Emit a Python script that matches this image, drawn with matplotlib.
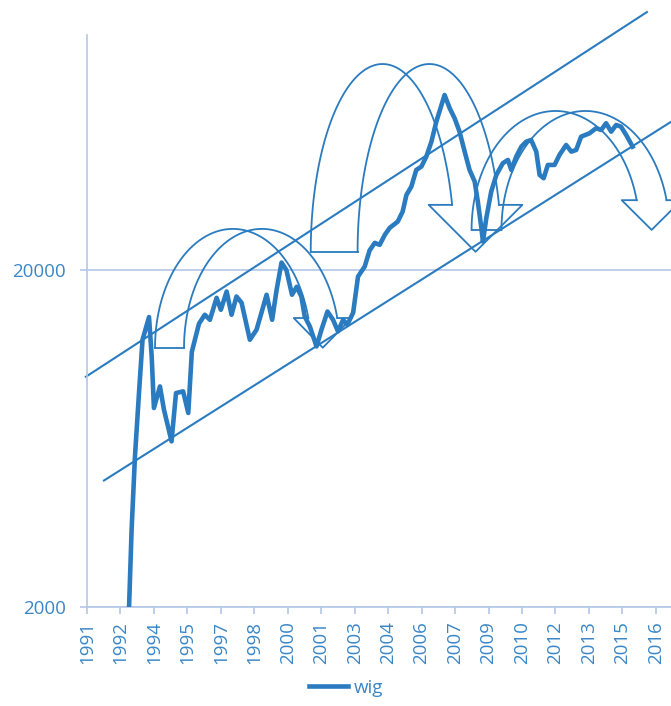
import numpy as np
import matplotlib
matplotlib.use("Agg")
import matplotlib.pyplot as plt
from matplotlib.lines import Line2D
from matplotlib.transforms import IdentityTransform

plt.rcParams['font.family'] = ['Open Sans', 'DejaVu Sans']

# wig index (decimal year, value)
years = [1992.88, 1993.00, 1993.15, 1993.34, 1993.49, 1993.78, 1993.90, 1994.00,
         1994.27, 1994.45, 1994.79, 1994.99, 1995.31, 1995.54, 1995.70, 1996.02,
         1996.28, 1996.51, 1996.81, 1997.00, 1997.26, 1997.48, 1997.70, 1997.93,
         1998.30, 1998.60, 1998.82, 1999.05, 1999.30, 1999.50, 1999.72, 1999.94,
         2000.19, 2000.40, 2000.61, 2000.76, 2000.99, 2001.29, 2001.51, 2001.78,
         2002.03, 2002.25, 2002.48, 2002.67, 2002.93, 2003.15, 2003.45, 2003.67,
         2003.90, 2004.12, 2004.35, 2004.57, 2004.93, 2005.15, 2005.32, 2005.54,
         2005.76, 2005.99, 2006.21, 2006.44, 2006.66, 2007.03, 2007.26, 2007.48,
         2007.70, 2007.93, 2008.15, 2008.38, 2008.52, 2008.68, 2008.75, 2008.90,
         2009.12, 2009.35, 2009.64, 2009.87, 2010.02, 2010.24, 2010.47, 2010.69,
         2010.91, 2011.14, 2011.29, 2011.47, 2011.66, 2011.96, 2012.18, 2012.48,
         2012.71, 2012.93, 2013.15, 2013.53, 2013.82, 2014.05, 2014.27, 2014.50,
         2014.72, 2014.94, 2015.17, 2015.46]
wig = [1950, 3400, 5600, 8840, 12440, 14530, 11100, 7800,
       9040, 7710, 6210, 8640, 8740, 7540, 11460, 13880,
       14760, 14260, 16570, 15270, 17300, 14760, 16720, 16020,
       12440, 13320, 14960, 16920, 14260, 17500, 21090, 20030,
       16920, 17870, 16720, 14590, 13620, 11880, 13320, 15090,
       14260, 13170, 14260, 13790, 14960, 19170, 20530, 22930,
       24130, 23810, 25490, 26740, 27910, 29890, 33500, 35460,
       39740, 40650, 43520, 48220, 55290, 66350, 60580, 56580,
       51630, 45040, 39740, 36690, 32000, 26690, 24350, 28570,
       34270, 38410, 41600, 42550, 39740, 43520, 46600, 48220,
       48780, 45040, 38410, 37550, 41120, 41120, 44030, 47140,
       45040, 45560, 49890, 51070, 52850, 52230, 54680, 51630,
       54050, 53420, 50490, 46600]

# channel lines (start, end)
upper_years = [1990.95, 2016.10]
upper_vals = [9660, 116980]
lower_years = [1991.76, 2017.17]
lower_vals = [4750, 55170]

# curved arrows: outer foot, base level, top level, half width and band width (years)
arrow_foot = [1994.05, 2001.03, 2008.24]
arrow_base = [11780, 22700, 26370]
arrow_top = [26550, 82000, 59470]
arrow_halfw = [3.49, 3.22, 3.76]
arrow_band = [1.30, 2.10, 1.34]

tick_years = [1991 + 1.5 * i for i in range(18)]
tick_labels = [str(int(t)) for t in tick_years]

blue = '#2a7bbf'
axcol = '#b4c7e7'
txtcol = '#3a86c6'

fig = plt.figure(figsize=(6.71, 7.06), dpi=100)
ax = fig.add_axes([87 / 671, 99 / 706, 584 / 671, 572 / 706])

ax.plot(years, wig, color=blue, lw=3.3, solid_joinstyle='round', label='wig', zorder=3)
ax.plot(upper_years, upper_vals, color=blue, lw=1.5, clip_on=False, zorder=2)
ax.plot(lower_years, lower_vals, color=blue, lw=1.5, clip_on=False, zorder=2)

ax.set_yscale('log')
ax.set_ylim(2000, 100000)
ax.set_xlim(1991, 2017.18)
ax.set_yticks([2000, 20000])
ax.set_yticklabels(['2000', '20000'])
ax.yaxis.set_minor_locator(matplotlib.ticker.NullLocator())
ax.set_xticks(tick_years)
ax.set_xticklabels(tick_labels, rotation=90)
ax.grid(axis='y', color=axcol, lw=1.2)
ax.set_axisbelow(True)
for s in ['top', 'right']:
    ax.spines[s].set_visible(False)
for s in ['left', 'bottom']:
    ax.spines[s].set_color(axcol)
    ax.spines[s].set_linewidth(1.2)
ax.tick_params(axis='x', colors=axcol, labelcolor=txtcol, labelsize=13.5, length=5, width=1.2, pad=5)
ax.tick_params(axis='y', colors=axcol, labelcolor=txtcol, labelsize=13.5, length=5, width=1.2, pad=10)

# draw the curved arrows in display space so their shape is not bent by the log axis
for foot, base, top, hw, band in zip(arrow_foot, arrow_base, arrow_top, arrow_halfw, arrow_band):
    x0, yb = ax.transData.transform((foot, base))
    xa, ya = ax.transData.transform((foot + hw, top))
    xb = ax.transData.transform((foot + band, base))[0]
    a = xa - x0
    h = ya - yb
    b = xb - x0
    cut = h / 4
    th_end = np.arcsin(cut / h)
    t = np.linspace(np.pi, th_end, 120)
    ends = []
    for c in (x0 + a, x0 + a + b):
        fig.add_artist(Line2D(c + a * np.cos(t), yb + h * np.sin(t), color=blue, lw=1.3,
                              transform=IdentityTransform(), zorder=4))
        ends.append(c + a * np.cos(th_end))
    fig.add_artist(Line2D([x0, x0 + b], [yb, yb], color=blue, lw=1.3,
                          transform=IdentityTransform(), zorder=4))
    e1, e2 = ends
    hx = [e1, e1 - b / 2, (e1 + e2) / 2, e2 + b / 2, e2]
    hy = [yb + cut, yb + cut, yb, yb + cut, yb + cut]
    fig.add_artist(Line2D(hx, hy, color=blue, lw=1.3, transform=IdentityTransform(), zorder=4))

leg = fig.legend(loc='center', bbox_to_anchor=(0.516, 0.026), frameon=False,
                 fontsize=13.5, handlelength=2.1, handletextpad=0.3)
for txt in leg.get_texts():
    txt.set_color(txtcol)

fig.savefig('out.png', dpi=100)
